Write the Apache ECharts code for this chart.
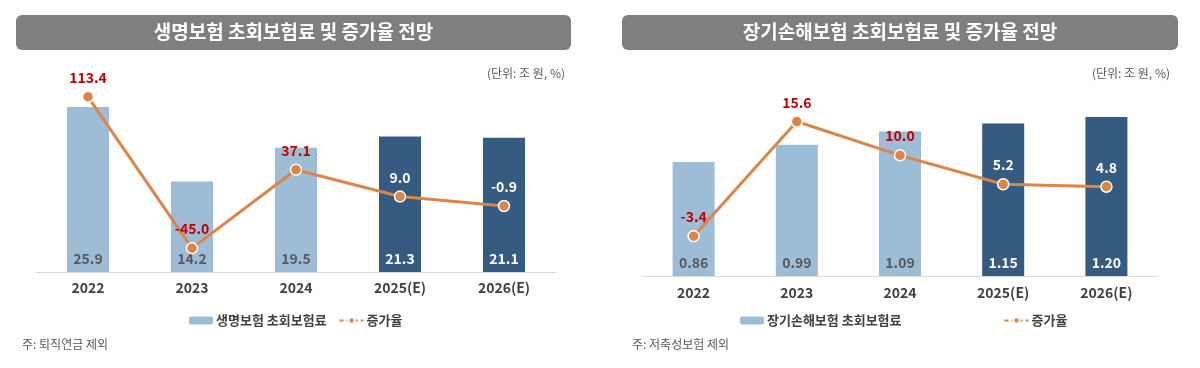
<!DOCTYPE html>
<html>
<head>
<meta charset="utf-8">
<script src="https://cdn.jsdelivr.net/npm/echarts@6/dist/echarts.min.js"></script>
<style>
html,body{margin:0;padding:0;background:#fff;}
#c{width:1200px;height:368px;}
</style>
</head>
<body>
<div id="c"></div>
<script>
const categories = ['2022', '2023', '2024', '2025(E)', '2026(E)'];
const estimated = [false, false, false, true, true];
const lifePremium = [25.9, 14.2, 19.5, 21.3, 21.1];
const lifeGrowth = [113.4, -45.0, 37.1, 9.0, -0.9];
const ltcPremium = [0.86, 0.99, 1.09, 1.15, 1.20];
const ltcGrowth = [-3.4, 15.6, 10.0, 5.2, 4.8];

const FONT = '"Noto Sans CJK KR", "Noto Sans", sans-serif';
const LIGHT = '#9dbcd6';
const DARK = '#365b80';
const ORANGE = '#dc8549';
const RED = '#c00000';

function barData(vals, dec) {
  return vals.map((v, i) => ({
    value: v,
    itemStyle: { color: estimated[i] ? DARK : LIGHT },
    label: { color: estimated[i] ? '#ffffff' : '#595959', formatter: () => v.toFixed(dec) }
  }));
}
function lineData(vals) {
  return vals.map((v, i) => ({
    value: v,
    label: { color: estimated[i] ? '#ffffff' : RED, formatter: () => v.toFixed(1) }
  }));
}

const chart = echarts.init(document.getElementById('c'), null, { renderer: 'canvas' });

const xAxisBase = (gi, margin) => ({
  type: 'category', gridIndex: gi, data: categories,
  axisLine: { lineStyle: { color: '#d9d9d9', width: 1 } },
  axisTick: { show: false },
  axisLabel: { color: '#404040', fontSize: 14, fontWeight: 'bold', fontFamily: FONT, margin: margin }
});
const hiddenY = (gi, min, max) => ({
  type: 'value', gridIndex: gi, min: min, max: max,
  show: false, splitLine: { show: false }
});

const lineSeries = (name, xi, yi, data) => ({
  name: name, type: 'line', xAxisIndex: xi, yAxisIndex: yi, data: lineData(data),
  symbol: 'circle', symbolSize: 11, z: 5,
  lineStyle: { color: ORANGE, width: 3 },
  itemStyle: { color: ORANGE, borderColor: '#ffffff', borderWidth: 1.5 },
  label: { show: true, position: 'top', distance: 6, fontSize: 14, fontWeight: 'bold', fontFamily: FONT }
});
const barSeries = (name, xi, yi, data, dec) => ({
  name: name, type: 'bar', xAxisIndex: xi, yAxisIndex: yi, data: barData(data, dec),
  barWidth: 42, itemStyle: { color: LIGHT },
  label: { show: true, position: 'insideBottom', distance: 6, fontSize: 14, fontWeight: 'bold', fontFamily: FONT }
});

const titleBox = (x, w, text) => ([
  { type: 'rect', left: x, top: 15, shape: { width: w, height: 35, r: 6 }, style: { fill: '#7f7f7f' }, z: 1 },
  { type: 'text', x: x + w / 2, y: 32, style: { text: text, fill: '#ffffff', font: 'bold 19px ' + FONT, textAlign: 'center', textVerticalAlign: 'middle' }, z: 2 }
]);

chart.setOption({
  backgroundColor: '#ffffff',
  animation: false,
  textStyle: { fontFamily: FONT },
  graphic: [
    ...titleBox(16, 555, '생명보험 초회보험료 및 증가율 전망'),
    ...titleBox(622, 556, '장기손해보험 초회보험료 및 증가율 전망'),
    { type: 'text', x: 565, y: 73, style: { text: '(단위: 조 원, %)', fill: '#595959', font: '12px ' + FONT, textAlign: 'right', textVerticalAlign: 'middle' } },
    { type: 'text', x: 1170, y: 73, style: { text: '(단위: 조 원, %)', fill: '#595959', font: '12px ' + FONT, textAlign: 'right', textVerticalAlign: 'middle' } },
    { type: 'text', x: 22, y: 344, style: { text: '주: 퇴직연금 제외', fill: '#595959', font: '12px ' + FONT, textVerticalAlign: 'middle' } },
    { type: 'text', x: 632, y: 344, style: { text: '주: 저축성보험 제외', fill: '#595959', font: '12px ' + FONT, textVerticalAlign: 'middle' } }
  ],
  legend: [
    {
      left: 184, top: 309, itemWidth: 24, itemHeight: 8, itemGap: 12,
      data: ['생명보험 초회보험료', '증가율'],
      textStyle: { color: '#404040', fontSize: 13, fontWeight: 'bold', fontFamily: FONT, padding: [0, 0, 0, -2] },
      lineStyle: { type: [4, 3] }
    },
    {
      left: 735, top: 309, itemWidth: 24, itemHeight: 8, itemGap: 102,
      data: ['장기손해보험 초회보험료', '증가율'],
      textStyle: { color: '#404040', fontSize: 13, fontWeight: 'bold', fontFamily: FONT, padding: [0, 0, 0, -2] },
      lineStyle: { type: [4, 3] }
    }
  ],
  grid: [
    { left: 36, width: 520, top: 81, height: 191 },
    { left: 642, width: 516, top: 95, height: 181 }
  ],
  xAxis: [xAxisBase(0, 9), xAxisBase(1, 10)],
  yAxis: [
    hiddenY(0, 0, 30), hiddenY(0, -70, 130),
    hiddenY(1, 0, 1.366), hiddenY(1, -10, 20)
  ],
  series: [
    barSeries('생명보험 초회보험료', 0, 0, lifePremium, 1),
    lineSeries('증가율', 0, 1, lifeGrowth),
    barSeries('장기손해보험 초회보험료', 1, 2, ltcPremium, 2),
    lineSeries('증가율', 1, 3, ltcGrowth)
  ]
});
</script>
</body>
</html>
